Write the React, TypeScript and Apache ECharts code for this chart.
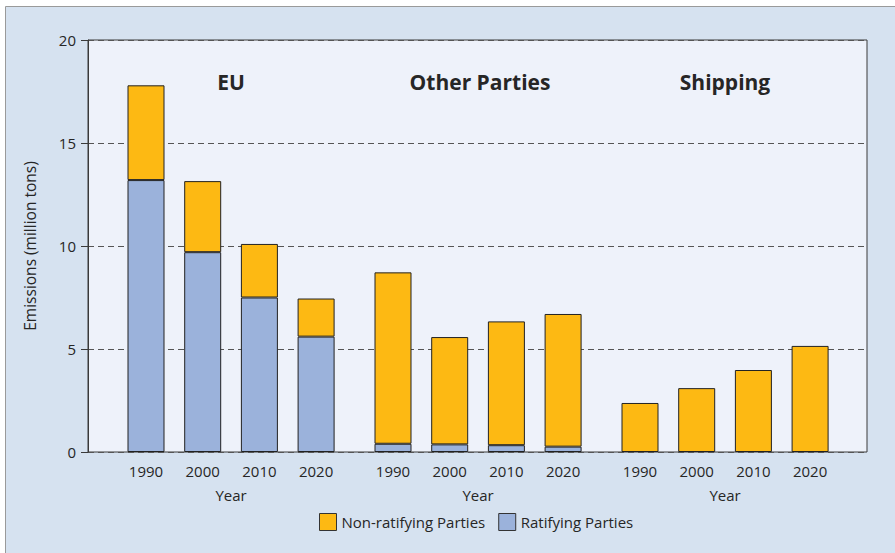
import React, { useEffect, useRef } from "react";
import * as echarts from "echarts";

const years = ["1990", "2000", "2010", "2020"];
const groupTitles = ["EU", "Other Parties", "Shipping"];
const euRatifying = [13.2, 9.7, 7.5, 5.6];
const euNonRatifying = [4.6, 3.45, 2.6, 1.85];
const otherRatifying = [0.4, 0.37, 0.33, 0.26];
const otherNonRatifying = [8.32, 5.21, 6.01, 6.44];
const shippingRatifying: number[] | null = null;
const shippingNonRatifying = [2.38, 3.1, 3.98, 5.15];
const yTicks = [0, 5, 10, 15, 20];

const FONT = "'Open Sans', 'Noto Sans', sans-serif";
const ORANGE = "#fdb913";
const BLUE = "#9bb2db";
const TEXT = "#262626";

export default function App() {
  const ref = useRef<HTMLDivElement>(null);
  useEffect(() => {
    if (!ref.current) return;
    const chart = echarts.init(ref.current, null, { renderer: "svg" });
    const plotLeft = 88;
    const plotTop = 40;
    const plotW = 779;
    const plotH = 412;
    const step = 56.7;
    const groupCenters = [146, 393, 640];
    const groupData = [
      [euRatifying, euNonRatifying],
      [otherRatifying, otherNonRatifying],
      [shippingRatifying, shippingNonRatifying],
    ];
    const grids: any[] = [
      {
        left: plotLeft,
        top: plotTop,
        width: plotW,
        height: plotH,
        show: true,
        backgroundColor: "#eef2fa",
        borderColor: "#3a3a3a",
        borderWidth: 1,
        z: 0,
      },
    ];
    const xAxes: any[] = [
      { type: "value", gridIndex: 0, show: false, min: 0, max: 1 },
    ];
    const yAxes: any[] = [
      {
        type: "value",
        gridIndex: 0,
        min: yTicks[0],
        max: yTicks[yTicks.length - 1],
        interval: 5,
        name: "Emissions (million tons)",
        nameLocation: "middle",
        nameGap: 50,
        nameTextStyle: { fontFamily: FONT, fontSize: 15.5, color: TEXT },
        axisLine: { show: true, lineStyle: { color: "#3a3a3a" } },
        axisTick: { show: true, length: 7, lineStyle: { color: "#3a3a3a" } },
        axisLabel: { fontFamily: FONT, fontSize: 15, color: TEXT, margin: 12 },
        splitLine: {
          show: true,
          lineStyle: { color: "#555", type: [6, 4], width: 1 },
        },
      },
    ];
    const series: any[] = [];
    groupCenters.forEach((c, g) => {
      const gi = g + 1;
      grids.push({
        left: c - step / 2,
        top: plotTop,
        width: step * 4,
        height: plotH,
        show: false,
      });
      xAxes.push({
        type: "category",
        gridIndex: gi,
        data: years,
        name: "Year",
        nameLocation: "middle",
        nameGap: 35,
        nameTextStyle: { fontFamily: FONT, fontSize: 15, color: TEXT },
        axisLine: { show: false },
        axisTick: { show: false },
        axisLabel: { fontFamily: FONT, fontSize: 15, color: TEXT, margin: 11 },
      });
      yAxes.push({
        type: "value",
        gridIndex: gi,
        min: 0,
        max: 20,
        show: false,
        splitLine: { show: false },
      });
      const [rat, non] = groupData[g];
      if (rat) {
        series.push({
          type: "bar",
          name: "Ratifying Parties",
          xAxisIndex: gi,
          yAxisIndex: gi,
          stack: "s" + g,
          data: rat,
          barWidth: 37,
          itemStyle: { color: BLUE, borderColor: "#222", borderWidth: 1 },
          z: 3,
        });
      }
      series.push({
        type: "bar",
        name: "Non-ratifying Parties",
        xAxisIndex: gi,
        yAxisIndex: gi,
        stack: "s" + g,
        data: non,
        barWidth: 37,
        itemStyle: { color: ORANGE, borderColor: "#222", borderWidth: 1 },
        z: 3,
      });
    });

    const titleX = [231, 480, 725];
    chart.setOption({
      animation: false,
      backgroundColor: "#ffffff",
      grid: grids,
      xAxis: xAxes,
      yAxis: yAxes,
      series,
      legend: {
        data: ["Non-ratifying Parties", "Ratifying Parties"],
        left: 319,
        top: 513,
        padding: 0,
        icon: "rect",
        itemWidth: 17,
        itemHeight: 17,
        itemGap: 13,
        itemStyle: { borderColor: "#333", borderWidth: 1 },
        textStyle: { fontFamily: FONT, fontSize: 15, color: TEXT },
        selectedMode: false,
      },
      graphic: [
        {
          type: "rect",
          z: -10,
          silent: true,
          shape: { x: 5.5, y: 6.5, width: 900, height: 560 },
          style: { fill: "#d6e2f0", stroke: "#9a9a9a", lineWidth: 1 },
        },
        ...groupTitles.map((t, i) => ({
          type: "text",
          x: titleX[i],
          y: 82,
          z: 10,
          style: {
            text: t,
            fontFamily: FONT,
            fontSize: 21,
            fontWeight: "bold",
            fill: TEXT,
            textAlign: "center",
            textVerticalAlign: "middle",
          },
        })),
      ],
    });
    return () => chart.dispose();
  }, []);
  return (
    <div
      ref={ref}
      style={{ position: "absolute", left: 0, top: 0, width: 895, height: 553 }}
    />
  );
}
